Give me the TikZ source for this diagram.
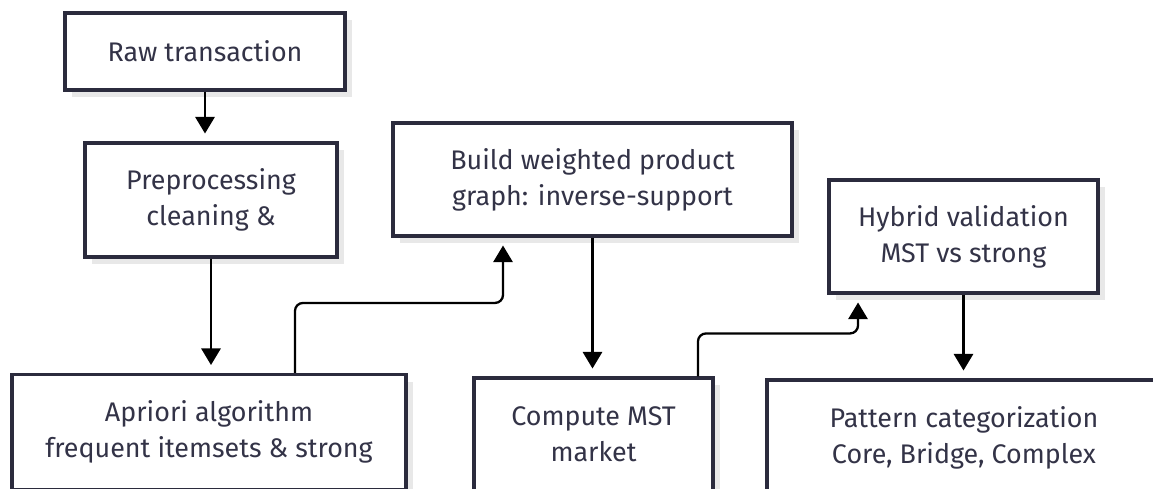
\documentclass[tikz,border=0pt]{standalone}
\usepackage{fontspec}
\setmainfont{Fira Sans}
\usetikzlibrary{arrows.meta}
\usetikzlibrary{shadows}
\definecolor{boxline}{HTML}{2B2B3D}
\definecolor{boxtext}{HTML}{333347}
\definecolor{boxshade}{HTML}{E8E8E8}

\begin{document}
\begin{tikzpicture}[x=0.02cm, y=-0.02cm,
  box/.style={draw=boxline, line width=1.8pt, fill=white, text=boxtext, align=center,
    inner sep=0pt, font=\fontsize{15.3}{20.5}\selectfont,
    drop shadow={shadow xshift=0.14cm, shadow yshift=-0.14cm, fill=boxshade, opacity=1}},
  link/.style={draw=black, line width=1.3pt, rounded corners=0.16cm, shorten >=4.5pt,
    -{Triangle[width=11pt,length=9.5pt]}}]
\useasboundingbox (0,0) rectangle (1153,488);
\clip (0,0) rectangle (1153,488);

% steps
\node [box, minimum width=5.6cm, minimum height=1.54cm] (raw) at (205,51.5) {Raw transaction};
\node [box, minimum width=5.04cm, minimum height=2.28cm] (prep) at (211,200) {Preprocessing\\cleaning \&};
\node [box, minimum width=7.88cm, minimum height=2.3cm] (apriori) at (209,432) {Apriori algorithm\\frequent itemsets \& strong};
\node [box, minimum width=7.98cm, minimum height=2.26cm] (build) at (592.5,179.5) {Build weighted product\\graph: inverse-support};
\node [box, minimum width=4.78cm, minimum height=2.26cm] (compute) at (593.5,434.5) {Compute MST\\market};
\node [box, minimum width=5.38cm, minimum height=2.26cm] (hybrid) at (963.5,236.5) {Hybrid validation\\MST vs strong};
\node [box, minimum width=7.88cm, minimum height=2.3cm] (pattern) at (964,437.5) {Pattern categorization\\Core, Bridge, Complex};

% flow
\draw [link] (raw.south) -- (raw.south |- prep.north);
\draw [link] (prep.south) -- (prep.south |- apriori.north);
\draw [link] ([xshift=1.72cm]apriori.north) -- ++(0,-70) -| ([xshift=-1.79cm]build.south);
\draw [link] (build.south) -- (build.south |- compute.north);
\draw [link] ([xshift=2.09cm]compute.north) -- ++(0,-43) -| ([xshift=-2.11cm]hybrid.south);
\draw [link] (hybrid.south) -- (hybrid.south |- pattern.north);
\end{tikzpicture}
\end{document}
